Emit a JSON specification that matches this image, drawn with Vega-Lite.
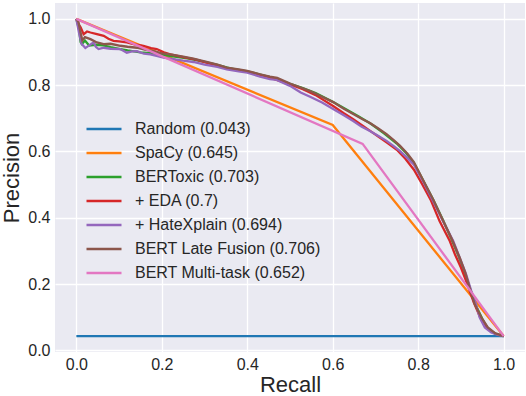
{
  "$schema": "https://vega.github.io/schema/vega-lite/v6.json",
  "width": 470,
  "height": 349,
  "autosize": {"type": "none"},
  "padding": {"left": 55, "top": 3, "right": 1, "bottom": 44},
  "config": {
    "view": {"stroke": null, "fill": "#EAEAF2"},
    "font": "Liberation Sans",
    "axis": {
      "domain": false, "ticks": false, "grid": true, "gridColor": "#FFFFFF", "gridWidth": 1.3,
      "labelFont": "Liberation Sans", "labelFontSize": 16, "labelColor": "#262626",
      "titleFont": "Liberation Sans", "titleFontSize": 22, "titleColor": "#262626", "titleFontWeight": "normal"
    }
  },
  "data": {"values": [
    {"model": "Random (0.043)", "r": 0, "p": 0.043},
    {"model": "Random (0.043)", "r": 1, "p": 0.043},
    {"model": "SpaCy (0.645)", "r": 0, "p": 1.0},
    {"model": "SpaCy (0.645)", "r": 0.6, "p": 0.68},
    {"model": "SpaCy (0.645)", "r": 1.0, "p": 0.043},
    {"model": "BERToxic (0.703)", "r": 0, "p": 1.0},
    {"model": "BERToxic (0.703)", "r": 0.006, "p": 0.97},
    {"model": "BERToxic (0.703)", "r": 0.01, "p": 0.93},
    {"model": "BERToxic (0.703)", "r": 0.013, "p": 0.924},
    {"model": "BERToxic (0.703)", "r": 0.02, "p": 0.935},
    {"model": "BERToxic (0.703)", "r": 0.03, "p": 0.92},
    {"model": "BERToxic (0.703)", "r": 0.045, "p": 0.922},
    {"model": "BERToxic (0.703)", "r": 0.063, "p": 0.92},
    {"model": "BERToxic (0.703)", "r": 0.08, "p": 0.915},
    {"model": "BERToxic (0.703)", "r": 0.103, "p": 0.909},
    {"model": "BERToxic (0.703)", "r": 0.12, "p": 0.905},
    {"model": "BERToxic (0.703)", "r": 0.15, "p": 0.899},
    {"model": "BERToxic (0.703)", "r": 0.173, "p": 0.897},
    {"model": "BERToxic (0.703)", "r": 0.2, "p": 0.892},
    {"model": "BERToxic (0.703)", "r": 0.23, "p": 0.886},
    {"model": "BERToxic (0.703)", "r": 0.26, "p": 0.881},
    {"model": "BERToxic (0.703)", "r": 0.3, "p": 0.87},
    {"model": "BERToxic (0.703)", "r": 0.33, "p": 0.861},
    {"model": "BERToxic (0.703)", "r": 0.36, "p": 0.851},
    {"model": "BERToxic (0.703)", "r": 0.4, "p": 0.842},
    {"model": "BERToxic (0.703)", "r": 0.43, "p": 0.832},
    {"model": "BERToxic (0.703)", "r": 0.46, "p": 0.822},
    {"model": "BERToxic (0.703)", "r": 0.5, "p": 0.804},
    {"model": "BERToxic (0.703)", "r": 0.53, "p": 0.791},
    {"model": "BERToxic (0.703)", "r": 0.56, "p": 0.776},
    {"model": "BERToxic (0.703)", "r": 0.6, "p": 0.75},
    {"model": "BERToxic (0.703)", "r": 0.63, "p": 0.728},
    {"model": "BERToxic (0.703)", "r": 0.66, "p": 0.706},
    {"model": "BERToxic (0.703)", "r": 0.69, "p": 0.683},
    {"model": "BERToxic (0.703)", "r": 0.72, "p": 0.655},
    {"model": "BERToxic (0.703)", "r": 0.75, "p": 0.624},
    {"model": "BERToxic (0.703)", "r": 0.77, "p": 0.598},
    {"model": "BERToxic (0.703)", "r": 0.79, "p": 0.565},
    {"model": "BERToxic (0.703)", "r": 0.81, "p": 0.517},
    {"model": "BERToxic (0.703)", "r": 0.835, "p": 0.455},
    {"model": "BERToxic (0.703)", "r": 0.858, "p": 0.393},
    {"model": "BERToxic (0.703)", "r": 0.878, "p": 0.335},
    {"model": "BERToxic (0.703)", "r": 0.895, "p": 0.283},
    {"model": "BERToxic (0.703)", "r": 0.91, "p": 0.23},
    {"model": "BERToxic (0.703)", "r": 0.922, "p": 0.185},
    {"model": "BERToxic (0.703)", "r": 0.935, "p": 0.135},
    {"model": "BERToxic (0.703)", "r": 0.95, "p": 0.095},
    {"model": "BERToxic (0.703)", "r": 0.962, "p": 0.068},
    {"model": "BERToxic (0.703)", "r": 0.98, "p": 0.05},
    {"model": "BERToxic (0.703)", "r": 1.0, "p": 0.043},
    {"model": "+ EDA (0.7)", "r": 0, "p": 1.0},
    {"model": "+ EDA (0.7)", "r": 0.005, "p": 0.984},
    {"model": "+ EDA (0.7)", "r": 0.01, "p": 0.975},
    {"model": "+ EDA (0.7)", "r": 0.017, "p": 0.954},
    {"model": "+ EDA (0.7)", "r": 0.025, "p": 0.962},
    {"model": "+ EDA (0.7)", "r": 0.033, "p": 0.959},
    {"model": "+ EDA (0.7)", "r": 0.048, "p": 0.954},
    {"model": "+ EDA (0.7)", "r": 0.064, "p": 0.949},
    {"model": "+ EDA (0.7)", "r": 0.075, "p": 0.94},
    {"model": "+ EDA (0.7)", "r": 0.087, "p": 0.934},
    {"model": "+ EDA (0.7)", "r": 0.1, "p": 0.932},
    {"model": "+ EDA (0.7)", "r": 0.118, "p": 0.929},
    {"model": "+ EDA (0.7)", "r": 0.14, "p": 0.922},
    {"model": "+ EDA (0.7)", "r": 0.157, "p": 0.919},
    {"model": "+ EDA (0.7)", "r": 0.175, "p": 0.912},
    {"model": "+ EDA (0.7)", "r": 0.188, "p": 0.909},
    {"model": "+ EDA (0.7)", "r": 0.205, "p": 0.899},
    {"model": "+ EDA (0.7)", "r": 0.22, "p": 0.893},
    {"model": "+ EDA (0.7)", "r": 0.25, "p": 0.885},
    {"model": "+ EDA (0.7)", "r": 0.28, "p": 0.877},
    {"model": "+ EDA (0.7)", "r": 0.31, "p": 0.866},
    {"model": "+ EDA (0.7)", "r": 0.35, "p": 0.852},
    {"model": "+ EDA (0.7)", "r": 0.4, "p": 0.84},
    {"model": "+ EDA (0.7)", "r": 0.43, "p": 0.83},
    {"model": "+ EDA (0.7)", "r": 0.46, "p": 0.82},
    {"model": "+ EDA (0.7)", "r": 0.5, "p": 0.802},
    {"model": "+ EDA (0.7)", "r": 0.53, "p": 0.788},
    {"model": "+ EDA (0.7)", "r": 0.56, "p": 0.77},
    {"model": "+ EDA (0.7)", "r": 0.6, "p": 0.738},
    {"model": "+ EDA (0.7)", "r": 0.625, "p": 0.716},
    {"model": "+ EDA (0.7)", "r": 0.648, "p": 0.697},
    {"model": "+ EDA (0.7)", "r": 0.67, "p": 0.678},
    {"model": "+ EDA (0.7)", "r": 0.69, "p": 0.66},
    {"model": "+ EDA (0.7)", "r": 0.71, "p": 0.642},
    {"model": "+ EDA (0.7)", "r": 0.73, "p": 0.624},
    {"model": "+ EDA (0.7)", "r": 0.75, "p": 0.605},
    {"model": "+ EDA (0.7)", "r": 0.77, "p": 0.578},
    {"model": "+ EDA (0.7)", "r": 0.79, "p": 0.545},
    {"model": "+ EDA (0.7)", "r": 0.81, "p": 0.5},
    {"model": "+ EDA (0.7)", "r": 0.83, "p": 0.452},
    {"model": "+ EDA (0.7)", "r": 0.85, "p": 0.39},
    {"model": "+ EDA (0.7)", "r": 0.874, "p": 0.33},
    {"model": "+ EDA (0.7)", "r": 0.886, "p": 0.29},
    {"model": "+ EDA (0.7)", "r": 0.9, "p": 0.25},
    {"model": "+ EDA (0.7)", "r": 0.915, "p": 0.2},
    {"model": "+ EDA (0.7)", "r": 0.93, "p": 0.145},
    {"model": "+ EDA (0.7)", "r": 0.945, "p": 0.1},
    {"model": "+ EDA (0.7)", "r": 0.96, "p": 0.068},
    {"model": "+ EDA (0.7)", "r": 0.98, "p": 0.05},
    {"model": "+ EDA (0.7)", "r": 1.0, "p": 0.043},
    {"model": "+ HateXplain (0.694)", "r": 0, "p": 1.0},
    {"model": "+ HateXplain (0.694)", "r": 0.006, "p": 0.96},
    {"model": "+ HateXplain (0.694)", "r": 0.012, "p": 0.925},
    {"model": "+ HateXplain (0.694)", "r": 0.021, "p": 0.912},
    {"model": "+ HateXplain (0.694)", "r": 0.03, "p": 0.92},
    {"model": "+ HateXplain (0.694)", "r": 0.04, "p": 0.929},
    {"model": "+ HateXplain (0.694)", "r": 0.046, "p": 0.915},
    {"model": "+ HateXplain (0.694)", "r": 0.052, "p": 0.909},
    {"model": "+ HateXplain (0.694)", "r": 0.064, "p": 0.913},
    {"model": "+ HateXplain (0.694)", "r": 0.08, "p": 0.91},
    {"model": "+ HateXplain (0.694)", "r": 0.103, "p": 0.909},
    {"model": "+ HateXplain (0.694)", "r": 0.118, "p": 0.898},
    {"model": "+ HateXplain (0.694)", "r": 0.13, "p": 0.902},
    {"model": "+ HateXplain (0.694)", "r": 0.142, "p": 0.903},
    {"model": "+ HateXplain (0.694)", "r": 0.158, "p": 0.895},
    {"model": "+ HateXplain (0.694)", "r": 0.173, "p": 0.893},
    {"model": "+ HateXplain (0.694)", "r": 0.19, "p": 0.888},
    {"model": "+ HateXplain (0.694)", "r": 0.204, "p": 0.883},
    {"model": "+ HateXplain (0.694)", "r": 0.23, "p": 0.878},
    {"model": "+ HateXplain (0.694)", "r": 0.25, "p": 0.874},
    {"model": "+ HateXplain (0.694)", "r": 0.274, "p": 0.87},
    {"model": "+ HateXplain (0.694)", "r": 0.3, "p": 0.862},
    {"model": "+ HateXplain (0.694)", "r": 0.33, "p": 0.855},
    {"model": "+ HateXplain (0.694)", "r": 0.352, "p": 0.848},
    {"model": "+ HateXplain (0.694)", "r": 0.38, "p": 0.842},
    {"model": "+ HateXplain (0.694)", "r": 0.4, "p": 0.838},
    {"model": "+ HateXplain (0.694)", "r": 0.43, "p": 0.826},
    {"model": "+ HateXplain (0.694)", "r": 0.453, "p": 0.818},
    {"model": "+ HateXplain (0.694)", "r": 0.469, "p": 0.816},
    {"model": "+ HateXplain (0.694)", "r": 0.5, "p": 0.798},
    {"model": "+ HateXplain (0.694)", "r": 0.525, "p": 0.778},
    {"model": "+ HateXplain (0.694)", "r": 0.547, "p": 0.765},
    {"model": "+ HateXplain (0.694)", "r": 0.575, "p": 0.748},
    {"model": "+ HateXplain (0.694)", "r": 0.601, "p": 0.728},
    {"model": "+ HateXplain (0.694)", "r": 0.625, "p": 0.71},
    {"model": "+ HateXplain (0.694)", "r": 0.648, "p": 0.692},
    {"model": "+ HateXplain (0.694)", "r": 0.667, "p": 0.675},
    {"model": "+ HateXplain (0.694)", "r": 0.687, "p": 0.662},
    {"model": "+ HateXplain (0.694)", "r": 0.705, "p": 0.648},
    {"model": "+ HateXplain (0.694)", "r": 0.726, "p": 0.632},
    {"model": "+ HateXplain (0.694)", "r": 0.742, "p": 0.617},
    {"model": "+ HateXplain (0.694)", "r": 0.757, "p": 0.602},
    {"model": "+ HateXplain (0.694)", "r": 0.775, "p": 0.58},
    {"model": "+ HateXplain (0.694)", "r": 0.79, "p": 0.56},
    {"model": "+ HateXplain (0.694)", "r": 0.811, "p": 0.511},
    {"model": "+ HateXplain (0.694)", "r": 0.835, "p": 0.45},
    {"model": "+ HateXplain (0.694)", "r": 0.858, "p": 0.39},
    {"model": "+ HateXplain (0.694)", "r": 0.882, "p": 0.33},
    {"model": "+ HateXplain (0.694)", "r": 0.9, "p": 0.27},
    {"model": "+ HateXplain (0.694)", "r": 0.912, "p": 0.23},
    {"model": "+ HateXplain (0.694)", "r": 0.924, "p": 0.18},
    {"model": "+ HateXplain (0.694)", "r": 0.935, "p": 0.14},
    {"model": "+ HateXplain (0.694)", "r": 0.944, "p": 0.099},
    {"model": "+ HateXplain (0.694)", "r": 0.956, "p": 0.069},
    {"model": "+ HateXplain (0.694)", "r": 0.971, "p": 0.054},
    {"model": "+ HateXplain (0.694)", "r": 0.985, "p": 0.047},
    {"model": "+ HateXplain (0.694)", "r": 1.0, "p": 0.043},
    {"model": "BERT Late Fusion (0.706)", "r": 0, "p": 1.0},
    {"model": "BERT Late Fusion (0.706)", "r": 0.005, "p": 0.99},
    {"model": "BERT Late Fusion (0.706)", "r": 0.009, "p": 0.964},
    {"model": "BERT Late Fusion (0.706)", "r": 0.014, "p": 0.935},
    {"model": "BERT Late Fusion (0.706)", "r": 0.02, "p": 0.945},
    {"model": "BERT Late Fusion (0.706)", "r": 0.033, "p": 0.939},
    {"model": "BERT Late Fusion (0.706)", "r": 0.048, "p": 0.929},
    {"model": "BERT Late Fusion (0.706)", "r": 0.064, "p": 0.924},
    {"model": "BERT Late Fusion (0.706)", "r": 0.08, "p": 0.925},
    {"model": "BERT Late Fusion (0.706)", "r": 0.103, "p": 0.919},
    {"model": "BERT Late Fusion (0.706)", "r": 0.12, "p": 0.916},
    {"model": "BERT Late Fusion (0.706)", "r": 0.142, "p": 0.913},
    {"model": "BERT Late Fusion (0.706)", "r": 0.16, "p": 0.907},
    {"model": "BERT Late Fusion (0.706)", "r": 0.181, "p": 0.903},
    {"model": "BERT Late Fusion (0.706)", "r": 0.2, "p": 0.896},
    {"model": "BERT Late Fusion (0.706)", "r": 0.22, "p": 0.893},
    {"model": "BERT Late Fusion (0.706)", "r": 0.25, "p": 0.886},
    {"model": "BERT Late Fusion (0.706)", "r": 0.274, "p": 0.88},
    {"model": "BERT Late Fusion (0.706)", "r": 0.3, "p": 0.872},
    {"model": "BERT Late Fusion (0.706)", "r": 0.33, "p": 0.862},
    {"model": "BERT Late Fusion (0.706)", "r": 0.352, "p": 0.853},
    {"model": "BERT Late Fusion (0.706)", "r": 0.38, "p": 0.848},
    {"model": "BERT Late Fusion (0.706)", "r": 0.4, "p": 0.843},
    {"model": "BERT Late Fusion (0.706)", "r": 0.43, "p": 0.833},
    {"model": "BERT Late Fusion (0.706)", "r": 0.453, "p": 0.826},
    {"model": "BERT Late Fusion (0.706)", "r": 0.47, "p": 0.822},
    {"model": "BERT Late Fusion (0.706)", "r": 0.5, "p": 0.805},
    {"model": "BERT Late Fusion (0.706)", "r": 0.525, "p": 0.793},
    {"model": "BERT Late Fusion (0.706)", "r": 0.547, "p": 0.782},
    {"model": "BERT Late Fusion (0.706)", "r": 0.575, "p": 0.765},
    {"model": "BERT Late Fusion (0.706)", "r": 0.601, "p": 0.749},
    {"model": "BERT Late Fusion (0.706)", "r": 0.625, "p": 0.73},
    {"model": "BERT Late Fusion (0.706)", "r": 0.648, "p": 0.713},
    {"model": "BERT Late Fusion (0.706)", "r": 0.67, "p": 0.697},
    {"model": "BERT Late Fusion (0.706)", "r": 0.687, "p": 0.686},
    {"model": "BERT Late Fusion (0.706)", "r": 0.705, "p": 0.671},
    {"model": "BERT Late Fusion (0.706)", "r": 0.726, "p": 0.652},
    {"model": "BERT Late Fusion (0.706)", "r": 0.742, "p": 0.635},
    {"model": "BERT Late Fusion (0.706)", "r": 0.757, "p": 0.618},
    {"model": "BERT Late Fusion (0.706)", "r": 0.775, "p": 0.593},
    {"model": "BERT Late Fusion (0.706)", "r": 0.79, "p": 0.568},
    {"model": "BERT Late Fusion (0.706)", "r": 0.811, "p": 0.515},
    {"model": "BERT Late Fusion (0.706)", "r": 0.835, "p": 0.455},
    {"model": "BERT Late Fusion (0.706)", "r": 0.858, "p": 0.392},
    {"model": "BERT Late Fusion (0.706)", "r": 0.88, "p": 0.332},
    {"model": "BERT Late Fusion (0.706)", "r": 0.897, "p": 0.28},
    {"model": "BERT Late Fusion (0.706)", "r": 0.91, "p": 0.235},
    {"model": "BERT Late Fusion (0.706)", "r": 0.92, "p": 0.19},
    {"model": "BERT Late Fusion (0.706)", "r": 0.932, "p": 0.14},
    {"model": "BERT Late Fusion (0.706)", "r": 0.948, "p": 0.099},
    {"model": "BERT Late Fusion (0.706)", "r": 0.963, "p": 0.069},
    {"model": "BERT Late Fusion (0.706)", "r": 0.98, "p": 0.052},
    {"model": "BERT Late Fusion (0.706)", "r": 1.0, "p": 0.043},
    {"model": "BERT Multi-task (0.652)", "r": 0, "p": 1.0},
    {"model": "BERT Multi-task (0.652)", "r": 0.67, "p": 0.623},
    {"model": "BERT Multi-task (0.652)", "r": 1.0, "p": 0.043}
  ]},
  "mark": {"type": "line", "strokeWidth": 2.3, "clip": true},
  "encoding": {
    "x": {
      "field": "r", "type": "quantitative", "title": "Recall",
      "scale": {"domain": [-0.05, 1.05], "nice": false, "zero": false},
      "axis": {"values": [0, 0.2, 0.4, 0.6, 0.8, 1.0], "format": ".1f", "labelPadding": 4, "titlePadding": 2}
    },
    "y": {
      "field": "p", "type": "quantitative", "title": "Precision",
      "scale": {"domain": [-0.005, 1.048], "nice": false, "zero": false},
      "axis": {"values": [0, 0.2, 0.4, 0.6, 0.8, 1.0], "format": ".1f", "labelPadding": 5, "titlePadding": 4}
    },
    "color": {
      "field": "model", "type": "nominal",
      "scale": {
        "domain": ["Random (0.043)", "SpaCy (0.645)", "BERToxic (0.703)", "+ EDA (0.7)", "+ HateXplain (0.694)", "BERT Late Fusion (0.706)", "BERT Multi-task (0.652)"],
        "range": ["#1f77b4", "#ff7f0e", "#2ca02c", "#d62728", "#9467bd", "#8c564b", "#e377c2"]
      },
      "legend": {
        "title": null, "orient": "none", "legendX": 30, "legendY": 115,
        "symbolType": "stroke", "symbolSize": 1225, "symbolStrokeWidth": 2.5,
        "labelFont": "Liberation Sans", "labelFontSize": 16, "labelColor": "#262626",
        "labelOffset": 12, "rowPadding": 2, "clipHeight": 22, "labelLimit": 400
      }
    }
  }
}
